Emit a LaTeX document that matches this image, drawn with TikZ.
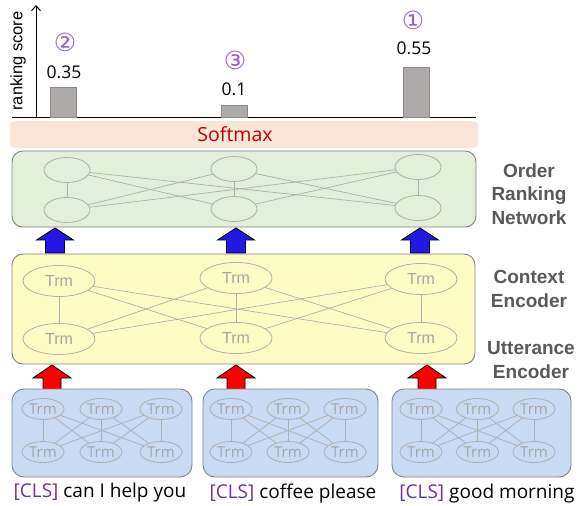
\documentclass[tikz,border=0pt]{standalone}
\usepackage{fontspec}
\setmainfont{Open Sans}
\newfontfamily\arialf{Liberation Sans}
\newfontfamily\circf{DejaVu Sans}
\usetikzlibrary{shapes.geometric,arrows.meta}
\definecolor{softfill}{RGB}{251,229,214}
\definecolor{greenfill}{RGB}{226,239,218}
\definecolor{yellowfill}{RGB}{255,251,197}
\definecolor{bluefill}{RGB}{201,218,245}
\definecolor{boxborder}{RGB}{130,130,130}
\definecolor{netgray}{RGB}{175,175,175}
\definecolor{trmgray}{RGB}{166,166,166}
\definecolor{bargray}{RGB}{174,170,170}
\definecolor{circpurple}{RGB}{150,95,205}
\definecolor{clspurple}{RGB}{112,48,160}
\definecolor{labgray}{RGB}{89,89,89}
\definecolor{softred}{RGB}{192,0,0}
\definecolor{arrowblue}{RGB}{36,22,228}
\tikzset{
  panel/.style={draw=boxborder, line width=0.9pt, rounded corners=11pt},
  ell/.style={ellipse, draw=netgray, line width=0.8pt, inner sep=0pt},
  netline/.style={draw=netgray, line width=0.7pt},
  trmtxt/.style={text=trmgray, font=\fontsize{15}{17}\selectfont},
  ytrm/.style={text=trmgray, font=\arialf\fontsize{16}{18}\selectfont},
  bar/.style={fill=bargray, draw=bargray!80!black, line width=0.3pt},
  numtxt/.style={font=\fontsize{17.5}{19}\selectfont},
  circtxt/.style={text=circpurple, font=\circf\fontsize{25}{27}\selectfont},
  sidelab/.style={text=labgray, font=\arialf\bfseries\fontsize{19}{23.5}\selectfont, align=center},
  uttxt/.style={font=\fontsize{19}{21}\selectfont},
  blockblue/.pic={\draw[fill=arrowblue, line width=0.8pt] (-9.5,25)--(-9.5,12)--(-18.5,12)--(0,0)--(18.5,12)--(9.5,12)--(9.5,25)--cycle;},
  blockred/.pic={\draw[fill=red, line width=0.8pt] (-9,28)--(-9,13)--(-19,13)--(0,0)--(19,13)--(9,13)--(9,28)--cycle;}
}
\begin{document}
\begin{tikzpicture}[x=1pt,y=-1pt]
\useasboundingbox (0,0) rectangle (579,506);

% ---- ranking score axis ----
\coordinate (ax0) at (36,117);
\coordinate (axtop) at (36,5);
\coordinate (hl) at (12,117);
\coordinate (hr) at (476,117);
\draw[line width=1pt] (hl) -- (hr);
\draw[line width=1pt, -{Straight Barb[length=5pt,width=9pt]}] (ax0) -- (axtop);
\node[rotate=90, font=\arialf\fontsize{16.5}{18}\selectfont] (axlab) at (18,61) {ranking score};

\draw[bar] (50,87) rectangle (76,117);
\draw[bar] (221,105) rectangle (247,117);
\draw[bar] (403,67) rectangle (429,117);
\node[numtxt] (n1) at (64,72) {0.35};
\node[numtxt] (n2) at (234,89) {0.1};
\node[numtxt] (n3) at (414,48) {0.55};
\node[circtxt] (c1) at (65,42) {②};
\node[circtxt] (c2) at (235,60) {③};
\node[circtxt] (c3) at (413,20) {①};

% ---- softmax ----
\fill[softfill, rounded corners=5pt] (10,121) rectangle (478,148);
\node[text=softred, font=\fontsize{19.5}{21}\selectfont] (soft) at (235,134) {Softmax};

% ---- order ranking network ----
\draw[panel, fill=greenfill] (12,151) rectangle (476,227);
\foreach \n/\x/\yt/\yb in {1/67/170/210, 2/234/169/209, 3/418/167/208}{
  \node[ell, minimum width=46pt, minimum height=25pt] (gt\n) at (\x,\yt) {};
  \node[ell, minimum width=46pt, minimum height=25pt] (gb\n) at (\x,\yb) {};
}
\foreach \a in {1,2,3}{\foreach \b in {1,2,3}{\draw[netline] (gt\a) -- (gb\b);}}
\node[sidelab] (orn) at (529,194) {Order\\Ranking\\Network};

% ---- blue arrows ----
\pic at (55,228) {blockblue};
\pic at (236,228) {blockblue};
\pic at (420,228) {blockblue};

% ---- context encoder ----
\draw[panel, fill=yellowfill] (12,254) rectangle (475,364);
\foreach \n/\x/\yt/\yb in {1/59/281/339, 2/236/278/338, 3/421/279/338}{
  \node[ell, minimum width=72pt, minimum height=31pt, ytrm] (yt\n) at (\x,\yt) {Trm};
  \node[ell, minimum width=72pt, minimum height=31pt, ytrm] (yb\n) at (\x,\yb) {Trm};
}
\foreach \a in {1,2,3}{\foreach \b in {1,2,3}{\draw[netline] (yt\a) -- (yb\b);}}
\node[sidelab] (ctx) at (529,289) {Context\\Encoder};
\node[sidelab] (utt) at (531,360) {Utterance\\Encoder};

% ---- red arrows ----
\pic at (52,365) {blockred};
\pic at (236,365) {blockred};
\pic at (427,365) {blockred};

% ---- utterance encoders ----
\draw[panel, fill=bluefill, rounded corners=12pt] (12,389) rectangle (192,477);
\draw[panel, fill=bluefill, rounded corners=12pt] (203,389) rectangle (378,477);
\draw[panel, fill=bluefill, rounded corners=12pt] (392,389) rectangle (571,477);
\foreach \u/\xa/\xb/\xc in {1/43/101/161, 2/231/288/345, 3/421/477.5/534}{
  \foreach \k/\x in {1/\xa, 2/\xb, 3/\xc}{
    \node[ell, minimum width=42pt, minimum height=21pt, trmtxt] (ut\u\k) at (\x,409) {Trm};
    \node[ell, minimum width=42pt, minimum height=21pt, trmtxt] (ub\u\k) at (\x,452) {Trm};
  }
  \foreach \a in {1,2,3}{\foreach \b in {1,2,3}{\draw[netline] (ut\u\a) -- (ub\u\b);}}
}

\node[uttxt] (s1) at (100,493) {\textcolor{clspurple}{[CLS]} can I help you};
\node[uttxt] (s2) at (293,494) {\textcolor{clspurple}{[CLS]} coffee please};
\node[uttxt] (s3) at (487,494) {\textcolor{clspurple}{[CLS]} good morning};
\end{tikzpicture}
\end{document}
